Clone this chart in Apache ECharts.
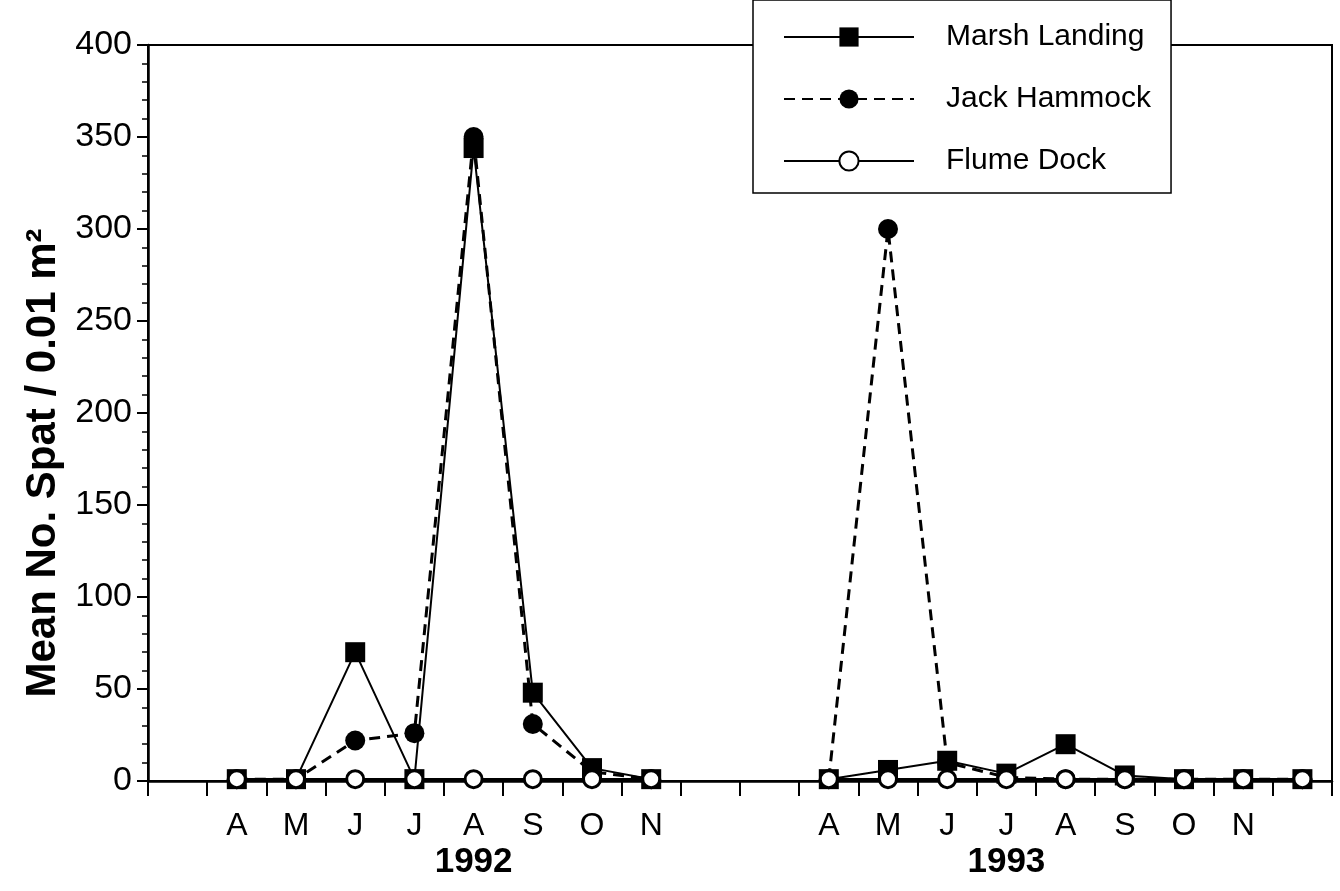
<!DOCTYPE html>
<html>
<head>
<meta charset="utf-8">
<script src="https://cdn.jsdelivr.net/npm/echarts@6/dist/echarts.min.js"></script>
<style>
  html, body { margin: 0; padding: 0; background: #fff; }
  #chart { width: 1340px; height: 891px; }
</style>
</head>
<body>
<div id="chart"></div>
<script>
// month slots along the x axis (empty slots = gap between years)
var months = ['', 'A', 'M', 'J', 'J', 'A', 'S', 'O', 'N', '', '', 'A', 'M', 'J', 'J', 'A', 'S', 'O', 'N', ''];
var years = ['', '', '', '', '', '1992', '', '', '', '', '', '', '', '', '1993', '', '', '', '', ''];
var yTicks = [0, 400, 50];

// mean no. spat per 0.01 m2
var marshLanding = [null, 1, 1, 70, 1, 344, 48, 7, 1, null, null, 1, 6, 11, 4, 20, 3, 1, 1, 1];
var jackHammock  = [null, 1, 1, 22, 26, 350, 31, 5, 1, null, null, 1, 300, 10, 2, 1, 1, 1, 1, 1];
var flumeDock    = [null, 1, 1, 1, 1, 1, 1, 1, 1, null, null, 1, 1, 1, 1, 1, 1, 1, 1, 1];

var font = '"Liberation Sans", Arial, sans-serif';

var chart = echarts.init(document.getElementById('chart'));

var option = {
  backgroundColor: '#fff',
  animation: false,
  textStyle: { fontFamily: font, color: '#000' },
  grid: {
    left: 148, right: 8, top: 45, bottom: 110,
    show: true, borderColor: '#000', borderWidth: 2
  },
  legend: {
    orient: 'vertical',
    left: 753, top: 0,
    padding: [22, 20, 17, 30],
    backgroundColor: '#fff',
    borderColor: '#000', borderWidth: 1.5,
    itemWidth: 130, itemHeight: 24, itemGap: 32,
    textStyle: { fontSize: 30, lineHeight: 28, color: '#000', fontFamily: font, padding: [0, 0, 0, 27] },
    data: ['Marsh Landing', 'Jack Hammock', 'Flume Dock']
  },
  xAxis: [{
    type: 'category',
    data: months,
    boundaryGap: true,
    axisLine: { lineStyle: { color: '#000', width: 2.5 } },
    axisTick: { show: true, interval: 0, length: 15, lineStyle: { color: '#000', width: 2 } },
    axisLabel: { interval: 0, fontSize: 32, margin: 29, color: '#000' },
    splitLine: { show: false }
  }, {
    type: 'category',
    data: years,
    position: 'bottom',
    boundaryGap: true,
    axisLine: { show: false },
    axisTick: { show: false },
    axisLabel: { interval: 0, fontSize: 35, fontWeight: 'bold', margin: 64, color: '#000' },
    splitLine: { show: false }
  }],
  yAxis: {
    type: 'value',
    min: yTicks[0], max: yTicks[1], interval: yTicks[2],
    name: 'Mean No. Spat / 0.01 m²',
    nameLocation: 'middle',
    nameGap: 84,
    nameTextStyle: { fontSize: 42, fontWeight: 'bold', color: '#000', padding: [0, 100, 0, 0] },
    axisLine: { show: true, lineStyle: { color: '#000', width: 2.5 } },
    axisTick: { show: true, length: 11, lineStyle: { color: '#000', width: 2 } },
    minorTick: { show: true, splitNumber: 5, length: 6, lineStyle: { color: '#000', width: 1.5 } },
    axisLabel: { fontSize: 34, margin: 16, color: '#000' },
    splitLine: { show: false }
  },
  series: [{
    name: 'Marsh Landing',
    type: 'line',
    data: marshLanding,
    symbol: 'rect', symbolSize: 20,
    itemStyle: { color: '#000' },
    lineStyle: { color: '#000', width: 2 }
  }, {
    name: 'Jack Hammock',
    type: 'line',
    data: jackHammock,
    symbol: 'circle', symbolSize: 20,
    itemStyle: { color: '#000' },
    lineStyle: { color: '#000', width: 3, type: [11, 7] }
  }, {
    name: 'Flume Dock',
    type: 'line',
    data: flumeDock,
    symbol: 'circle', symbolSize: 17,
    itemStyle: { color: '#fff', borderColor: '#000', borderWidth: 3 },
    lineStyle: { color: '#000', width: 2.5 }
  }]
};

chart.setOption(option);
</script>
</body>
</html>
